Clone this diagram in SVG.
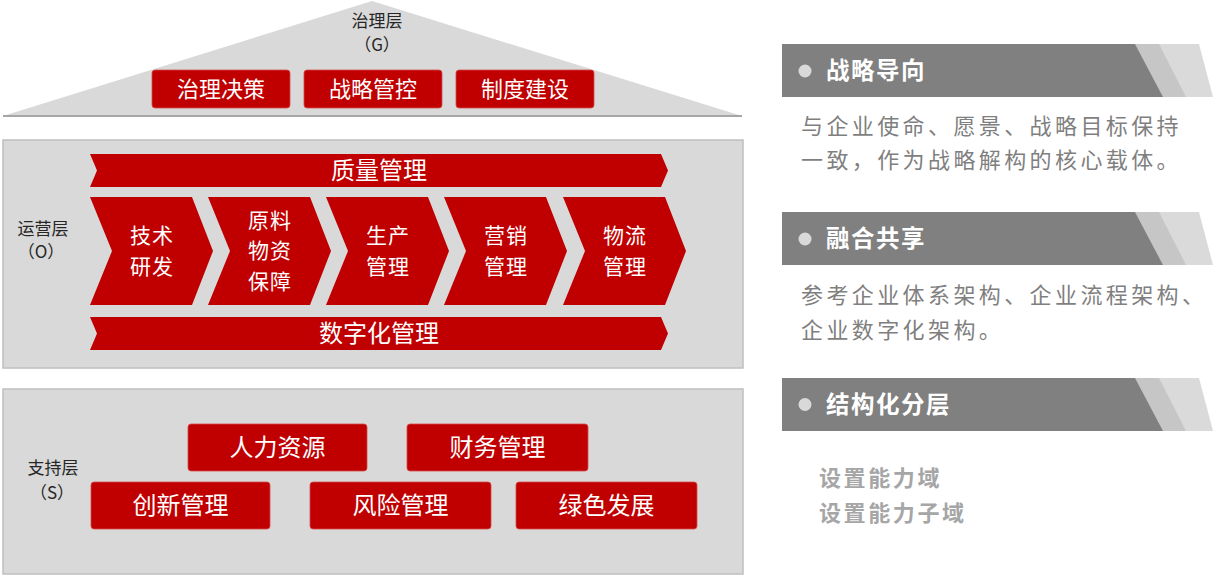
<svg xmlns="http://www.w3.org/2000/svg" width="1213" height="576" viewBox="0 0 1213 576">
<style>
text{font-family:"Noto Sans CJK SC","Noto Sans",sans-serif;}
.panel{fill:#d9d9d9;stroke:#bfbfbf;stroke-width:1.5;}
.red{fill:#c00000;}
.box{fill:#c00000;stroke:#d84a4a;stroke-width:0.8;}
.wt{fill:#ffffff;font-size:22px;text-anchor:middle;dominant-baseline:central;}
.wt24{fill:#ffffff;font-size:24px;text-anchor:middle;dominant-baseline:central;}
.wc{fill:#ffffff;font-size:21px;text-anchor:middle;dominant-baseline:central;letter-spacing:1px;}
.lbl{fill:#262626;font-size:17px;text-anchor:middle;dominant-baseline:central;}
.bar{fill:#808080;}
.s1{fill:#c6c6c6;}
.s2{fill:#dadada;}
.dot{fill:#d9d9d9;}
.ttl{fill:#ffffff;font-size:23.5px;font-weight:bold;dominant-baseline:central;letter-spacing:1.5px;}
.body{fill:#7f7f7f;font-size:22px;dominant-baseline:central;letter-spacing:3.4px;}
.body2{fill:#a6a6a6;font-size:22px;font-weight:bold;dominant-baseline:central;letter-spacing:2.6px;}
</style>

<!-- Governance layer -->
<g id="governance">
  <polygon points="3,116 372,1 742,116" fill="#d9d9d9"/>
  <line x1="3" y1="116" x2="742" y2="116" stroke="#a6a6a6" stroke-width="2"/>
  <text class="lbl" x="377" y="19">治理层</text>
  <text class="lbl" x="377" y="43">（G）</text>
</g>
<g id="g-decision"><rect class="box" x="152" y="70" width="138" height="38" rx="3"/><text class="wt" x="221" y="87">治理决策</text></g>
<g id="g-strategy"><rect class="box" x="304" y="70" width="138" height="38" rx="3"/><text class="wt" x="373" y="87">战略管控</text></g>
<g id="g-system"><rect class="box" x="456" y="70" width="138" height="38" rx="3"/><text class="wt" x="525" y="87">制度建设</text></g>

<!-- Operations layer -->
<g id="operations">
  <rect class="panel" x="3" y="140" width="740" height="228"/>
  <text class="lbl" x="43" y="227">运营层</text>
  <text class="lbl" x="41" y="250">（O）</text>
</g>
<g id="o-quality">
  <polygon class="red" points="90,154 661,154 668,170.5 661,187 90,187 97,170.5"/>
  <text class="wt24" x="379" y="168.5">质量管理</text>
</g>
<g id="o-rd">
  <polygon class="red" points="90,197 192,197 213,251 192,305 90,305 112,251"/>
  <text class="wc" x="152" y="233.5">技术<tspan x="152" dy="31">研发</tspan></text>
</g>
<g id="o-material">
  <polygon class="red" points="208,197 310,197 331,251 310,305 208,305 230,251"/>
  <text class="wc" x="270" y="218.5">原料<tspan x="270" dy="30.5">物资</tspan><tspan x="270" dy="30.5">保障</tspan></text>
</g>
<g id="o-production">
  <polygon class="red" points="326,197 428,197 449,251 428,305 326,305 348,251"/>
  <text class="wc" x="388" y="233.5">生产<tspan x="388" dy="31">管理</tspan></text>
</g>
<g id="o-marketing">
  <polygon class="red" points="444,197 546,197 567,251 546,305 444,305 466,251"/>
  <text class="wc" x="506" y="233.5">营销<tspan x="506" dy="31">管理</tspan></text>
</g>
<g id="o-logistics">
  <polygon class="red" points="563,197 665,197 686,251 665,305 563,305 585,251"/>
  <text class="wc" x="625" y="233.5">物流<tspan x="625" dy="31">管理</tspan></text>
</g>
<g id="o-digital">
  <polygon class="red" points="90,317 661,317 668,333.5 661,350 90,350 97,333.5"/>
  <text class="wt24" x="379" y="331.5">数字化管理</text>
</g>

<!-- Support layer -->
<g id="support">
  <rect class="panel" x="3" y="389" width="740" height="185"/>
  <text class="lbl" x="53" y="466">支持层</text>
  <text class="lbl" x="52" y="491">（S）</text>
</g>
<g id="s-hr"><rect class="box" x="188" y="424" width="179" height="47" rx="3"/><text class="wt24" x="277.5" y="445.5">人力资源</text></g>
<g id="s-finance"><rect class="box" x="407" y="424" width="181" height="47" rx="3"/><text class="wt24" x="497.5" y="445.5">财务管理</text></g>
<g id="s-innovation"><rect class="box" x="91" y="482" width="179" height="47" rx="3"/><text class="wt24" x="180.5" y="503.5">创新管理</text></g>
<g id="s-risk"><rect class="box" x="310" y="482" width="181" height="47" rx="3"/><text class="wt24" x="400.5" y="503.5">风险管理</text></g>
<g id="s-green"><rect class="box" x="516" y="482" width="181" height="47" rx="3"/><text class="wt24" x="606.5" y="503.5">绿色发展</text></g>

<!-- Right side principles -->
<g id="p-strategy">
  <polygon class="s2" points="1150,44 1199,44 1213,97 1178,97"/>
  <polygon class="s1" points="1130,44 1159,44 1186,97 1158,97"/>
  <polygon class="bar" points="782,44 1135,44 1163,97 782,97"/>
  <circle class="dot" cx="805" cy="71" r="6.5"/>
  <text class="ttl" x="826" y="69">战略导向</text>
  <text class="body" x="801" y="124">与企业使命、愿景、战略目标保持</text>
  <text class="body" x="801" y="158">一致，作为战略解构的核心载体。</text>
</g>
<g id="p-share">
  <polygon class="s2" points="1150,212 1199,212 1213,265 1178,265"/>
  <polygon class="s1" points="1130,212 1159,212 1186,265 1158,265"/>
  <polygon class="bar" points="782,212 1135,212 1163,265 782,265"/>
  <circle class="dot" cx="805" cy="239" r="6.5"/>
  <text class="ttl" x="826" y="237">融合共享</text>
  <text class="body" x="801" y="293">参考企业体系架构、企业流程架构、</text>
  <text class="body" x="801" y="328">企业数字化架构。</text>
</g>
<g id="p-layer">
  <polygon class="s2" points="1150,378 1199,378 1213,431 1178,431"/>
  <polygon class="s1" points="1130,378 1159,378 1186,431 1158,431"/>
  <polygon class="bar" points="782,378 1135,378 1163,431 782,431"/>
  <circle class="dot" cx="805" cy="404.5" r="6.5"/>
  <text class="ttl" x="826" y="402.5">结构化分层</text>
  <text class="body2" x="819" y="476">设置能力域</text>
  <text class="body2" x="819" y="511">设置能力子域</text>
</g>
<g id="connectors"></g>
</svg>
